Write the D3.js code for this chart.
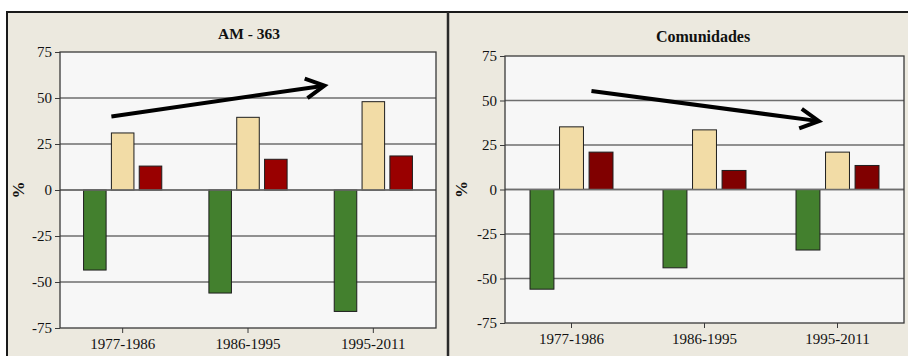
<!DOCTYPE html>
<html>
<head>
<meta charset="utf-8">
<script src="https://cdn.jsdelivr.net/npm/d3@7"></script>
<style>
  html, body { margin: 0; padding: 0; background: #ffffff; }
  svg, svg text { font-family: "Liberation Serif", "Times New Roman", Times, serif !important; }
</style>
</head>
<body>
<svg id="chart" width="908" height="356"></svg>
<script>
// Periods on the x axis
const periods = ["1977-1986", "1986-1995", "1995-2011"];
// Series keys (bar order inside each period group)
const seriesKeys = ["verde", "crema", "rojo"];
// Y axis ticks (%)
const yTicks = [-75, -50, -25, 0, 25, 50, 75];

// AM - 363 values (%)
const amVerde = [-43.5, -56, -66];
const amCrema = [31, 39.5, 48];
const amRojo  = [13, 16.7, 18.5];

// Comunidades values (%)
const comVerde = [-56, -44, -34];
const comCrema = [35.2, 33.5, 21];
const comRojo  = [21, 10.7, 13.5];

// Trend arrows: [period position, value] for start and tip
const amArrow  = [[-0.09, 40], [1.61, 56.7]];
const comArrow = [[0.15, 55.3], [1.86, 38.4]];

const svg = d3.select("#chart");

// Panel frames
svg.append("rect").attr("x", 7).attr("y", 12).attr("width", 441).attr("height", 360)
  .attr("fill", "#ECE9DF").attr("stroke", "#1a1a1a").attr("stroke-width", 2);
svg.append("rect").attr("x", 448).attr("y", 12).attr("width", 480).attr("height", 360)
  .attr("fill", "#ECE9DF").attr("stroke", "#1a1a1a").attr("stroke-width", 2);
svg.append("line").attr("x1", 448).attr("x2", 448).attr("y1", 12).attr("y2", 356)
  .attr("stroke", "#2a2a2a").attr("stroke-width", 2.5);

// Tick labels use a plain hyphen for negatives
const tickText = d => (d < 0 ? "-" + Math.abs(d) : String(d));

function drawPanel(cfg) {
  const {left, right, top, bottom, title, titleX, titleY, titleSize, pctX, verde, crema, rojo, arrow, rojoColor} = cfg;
  const g = svg.append("g");

  const x = d3.scaleBand().domain(periods).range([left, right]).paddingInner(0).paddingOuter(0);
  const step = x.step();
  const y = d3.scaleLinear().domain([-75, 75]).range([bottom, top]);
  const inner = d3.scaleBand().domain(seriesKeys)
    .range([-0.312 * step, 0.312 * step]).paddingInner(0.19);
  const colors = {verde: "#43802E", crema: "#F2DCA6", rojo: rojoColor};

  // Plot background
  g.append("rect").attr("x", left).attr("y", top).attr("width", right - left).attr("height", bottom - top)
    .attr("fill", "#F7F7F7");

  // Horizontal grid lines
  g.selectAll(".grid").data(yTicks.filter(t => t > -75 && t < 75)).join("line")
    .attr("x1", left).attr("x2", right)
    .attr("y1", d => y(d)).attr("y2", d => y(d))
    .attr("stroke", "#6e6e6e").attr("stroke-width", 1.3);

  // Bars
  const rows = periods.map((p, i) => ({p, verde: verde[i], crema: crema[i], rojo: rojo[i]}));
  rows.forEach(r => {
    seriesKeys.forEach(k => {
      const v = r[k];
      g.append("rect")
        .attr("x", x(r.p) + step / 2 + inner(k))
        .attr("y", y(Math.max(0, v)))
        .attr("width", inner.bandwidth())
        .attr("height", Math.abs(y(v) - y(0)))
        .attr("fill", colors[k])
        .attr("stroke", "#1e1e1e").attr("stroke-width", 1);
    });
  });

  // Zero line on top of bar edges
  g.append("line").attr("x1", left).attr("x2", right).attr("y1", y(0)).attr("y2", y(0))
    .attr("stroke", "#6e6e6e").attr("stroke-width", 1.3);

  // Plot border
  g.append("rect").attr("x", left).attr("y", top).attr("width", right - left).attr("height", bottom - top)
    .attr("fill", "none").attr("stroke", "#3a3a3a").attr("stroke-width", 1.3);

  // Y axis
  const yAxis = d3.axisLeft(y).tickValues(yTicks).tickSize(5).tickPadding(3).tickFormat(tickText);
  const ya = g.append("g").attr("transform", `translate(${left},0)`).call(yAxis)
    .attr("font-family", null).attr("font-size", 15);
  ya.select(".domain").remove();
  ya.selectAll("line").attr("stroke", "#3a3a3a");
  ya.selectAll("text").attr("fill", "#111");

  // X axis
  const xAxis = d3.axisBottom(x).tickSize(5).tickPadding(5);
  const xa = g.append("g").attr("transform", `translate(0,${bottom})`).call(xAxis)
    .attr("font-family", null).attr("font-size", 15);
  xa.select(".domain").remove();
  xa.selectAll("line").attr("stroke", "#3a3a3a");
  xa.selectAll("text").attr("fill", "#111");

  // Title
  g.append("text").attr("x", titleX).attr("y", titleY).attr("text-anchor", "middle")
    .attr("font-size", titleSize).attr("font-weight", "bold").attr("fill", "#111").text(title);

  // Y label
  g.append("text")
    .attr("transform", `translate(${pctX},${(top + bottom) / 2}) rotate(-90)`)
    .attr("text-anchor", "middle").attr("dominant-baseline", "central")
    .attr("font-size", 17).attr("font-weight", "bold").attr("fill", "#111").text("%");

  // Trend arrow
  const px = p => left + (p + 0.5) * step;
  const [s, e] = arrow;
  const x0 = px(s[0]), y0 = y(s[1]), x1 = px(e[0]), y1 = y(e[1]);
  const ang = Math.atan2(y1 - y0, x1 - x0);
  const len = 21, spread = 28 * Math.PI / 180;
  g.append("line").attr("x1", x0).attr("y1", y0).attr("x2", x1 - 2 * Math.cos(ang)).attr("y2", y1 - 2 * Math.sin(ang))
    .attr("stroke", "#000").attr("stroke-width", 4);
  const head = [
    [x1 - len * Math.cos(ang - spread), y1 - len * Math.sin(ang - spread)],
    [x1, y1],
    [x1 - len * Math.cos(ang + spread), y1 - len * Math.sin(ang + spread)]
  ];
  g.append("path").attr("d", d3.line()(head)).attr("fill", "none")
    .attr("stroke", "#000").attr("stroke-width", 4).attr("stroke-linejoin", "miter");
}

drawPanel({
  left: 60, right: 436, top: 52, bottom: 328,
  title: "AM - 363", titleX: 249, titleY: 39, titleSize: 15.5, pctX: 18,
  verde: amVerde, crema: amCrema, rojo: amRojo, arrow: amArrow, rojoColor: "#990000"
});

drawPanel({
  left: 505, right: 904, top: 56, bottom: 323,
  title: "Comunidades", titleX: 703, titleY: 42, titleSize: 16, pctX: 461,
  verde: comVerde, crema: comCrema, rojo: comRojo, arrow: comArrow, rojoColor: "#800000"
});
</script>
</body>
</html>
